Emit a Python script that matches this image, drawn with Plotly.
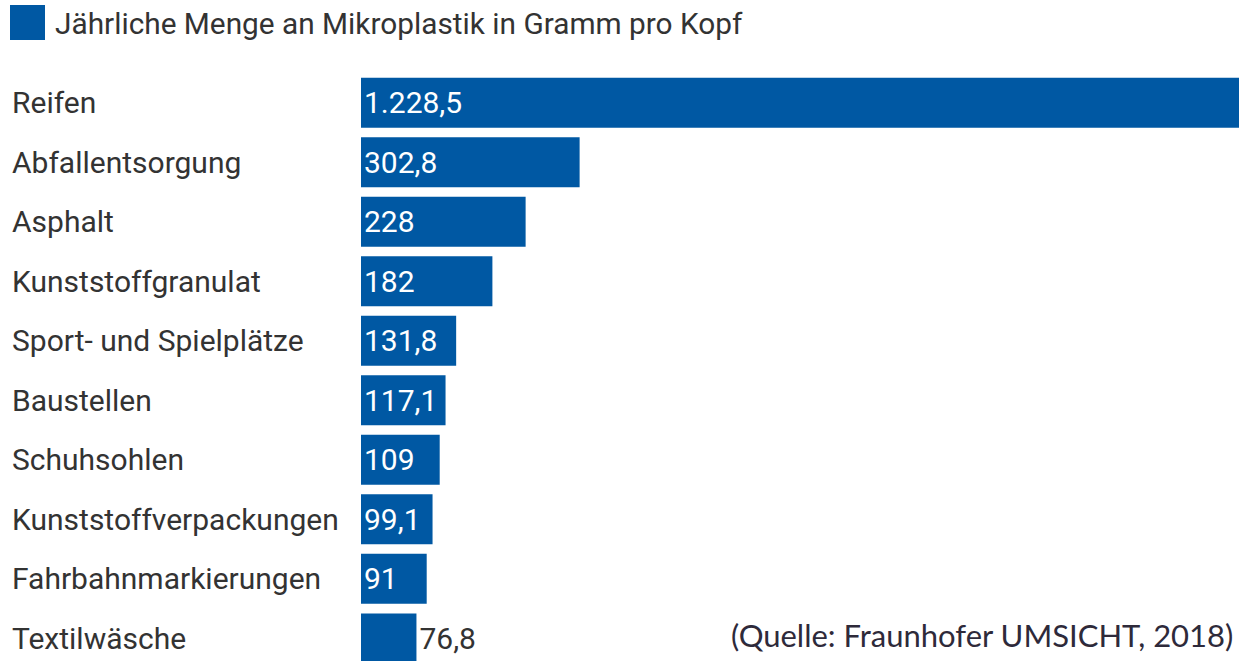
import plotly.graph_objects as go

categories = ["Reifen", "Abfallentsorgung", "Asphalt", "Kunststoffgranulat",
              "Sport- und Spielplätze", "Baustellen", "Schuhsohlen",
              "Kunststoffverpackungen", "Fahrbahnmarkierungen", "Textilwäsche"]
values = [1228.5, 302.8, 228, 182, 131.8, 117.1, 109, 99.1, 91, 76.8]
series_name = "Jährliche Menge an Mikroplastik in Gramm pro Kopf"
source_text = "(Quelle: Fraunhofer UMSICHT, 2018)"

BLUE = "#0058a3"
DARK = "#333333"
W, H = 1239, 661
ML, MT = 361, 73
FS = 30


def de_format(v):
    if float(v).is_integer():
        s = f"{int(v):,}"
    else:
        s = f"{v:,.1f}"
    return s.replace(",", "X").replace(".", ",").replace("X", ".")


labels = [de_format(v) for v in values]
positions = ["inside"] * (len(values) - 1) + ["outside"]

fig = go.Figure()
fig.add_trace(go.Bar(
    y=categories, x=values, orientation="h",
    marker=dict(color=BLUE, line=dict(width=0)),
    text=labels, textposition=positions, insidetextanchor="start",
    insidetextfont=dict(color="white", family="Roboto", size=FS),
    outsidetextfont=dict(color=DARK, family="Roboto", size=FS),
    cliponaxis=True, showlegend=False, hoverinfo="skip",
))

annotations = []
for c in categories:
    annotations.append(dict(
        x=(10 - ML) / (W - ML), xref="paper", xanchor="left",
        y=c, yref="y", yanchor="middle",
        text=c, showarrow=False,
        font=dict(family="Roboto", size=FS, color=DARK),
    ))

# legend entry
annotations.append(dict(
    x=(53 - ML) / (W - ML), xref="paper", xanchor="left",
    y=1 + (MT - 23) / (H - MT), yref="paper", yanchor="middle",
    text=series_name, showarrow=False,
    font=dict(family="Roboto", size=29.8, color=DARK),
))
# source
annotations.append(dict(
    x=(1235 - ML) / (W - ML), xref="paper", xanchor="right",
    y=(H - 635) / (H - MT), yref="paper", yanchor="middle",
    text=source_text, showarrow=False,
    font=dict(family="Lato", size=31, color="#2e2a3a"),
))

shapes = [dict(
    type="rect", xref="paper", yref="paper",
    x0=(10 - ML) / (W - ML), x1=(45 - ML) / (W - ML),
    y0=1 + (MT - 40) / (H - MT), y1=1 + (MT - 5) / (H - MT),
    fillcolor=BLUE, line=dict(width=0),
)]

fig.update_layout(
    width=W, height=H,
    margin=dict(l=ML, r=0, t=MT, b=0, pad=0),
    paper_bgcolor="white", plot_bgcolor="white",
    bargap=0.16,
    xaxis=dict(range=[0, 878 / 0.722], visible=False, fixedrange=True),
    yaxis=dict(range=[9.38, -0.5], showticklabels=False, showgrid=False,
               zeroline=False, ticks="", fixedrange=True,
               categoryorder="array", categoryarray=categories),
    annotations=annotations, shapes=shapes,
    font=dict(family="Roboto"),
)

fig.write_html("out.html", config={"displayModeBar": False},
               post_script="document.body.style.margin='0';document.body.style.overflow='hidden';")
